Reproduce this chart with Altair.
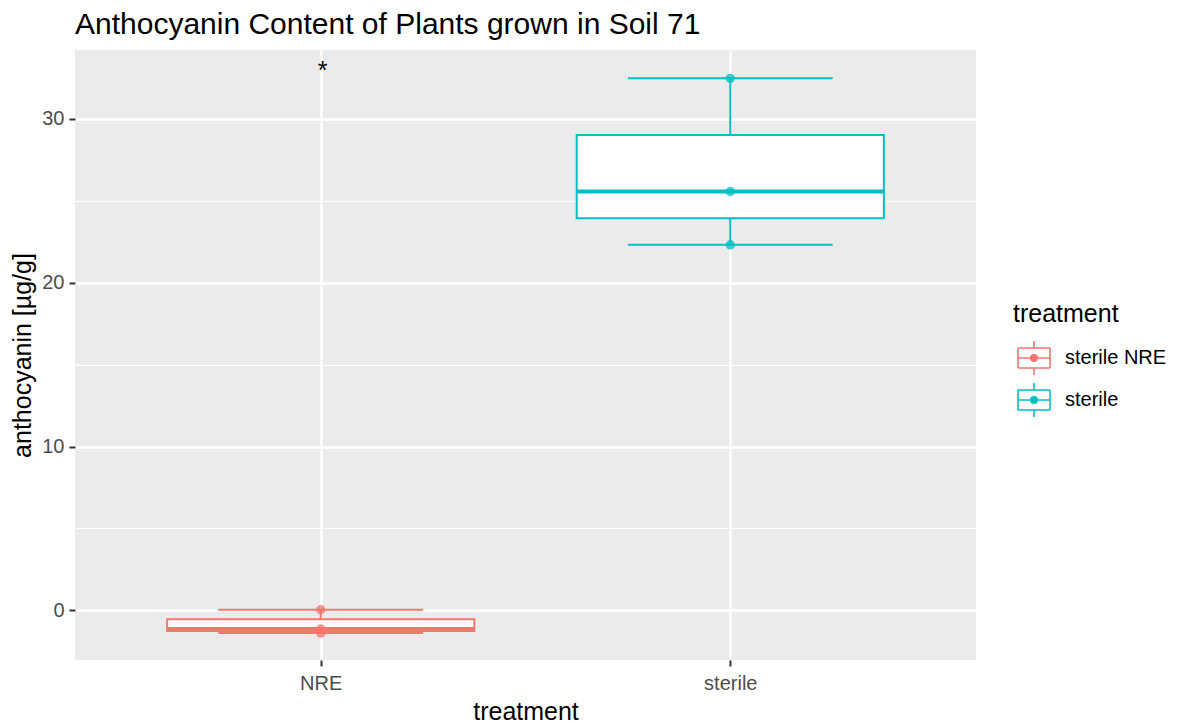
import json
import altair as alt
import pandas as pd

# ---- data ----
categories = ["NRE", "sterile"]          # x-axis categories
groups = ["sterile NRE", "sterile"]      # legend labels
colors = ["#F8766D", "#00BFC4"]
nre_values = [-1.38, -1.13, 0.05]
sterile_values = [22.3, 25.55, 32.45]
y_ticks = [0, 10, 20, 30]
y_minor = [5, 15, 25]
ann_label = ["*"]
ann_cat = ["NRE"]
ann_y = [32.4]

FONT = "Liberation Sans"

rows = []
for i, (cat, grp, vals) in enumerate(zip(categories, groups, [nre_values, sterile_values])):
    for v in vals:
        rows.append({"treatment": cat, "group": grp, "idx": i + 1, "value": v})
df = pd.DataFrame(rows)

ann_df = pd.DataFrame({
    "label": ann_label,
    "idx": [categories.index(c) + 1 for c in ann_cat],
    "y": ann_y,
})

x_scale = alt.Scale(domain=[0.4, 2.6], nice=False, zero=False)
y_scale = alt.Scale(domain=[-3.02, 34.18], nice=False, zero=False)
col_scale = alt.Scale(domain=groups, range=colors)

label_expr = json.dumps(categories) + "[datum.value - 1]"

x_axis = alt.Axis(values=[1, 2], labelExpr=label_expr, title="treatment",
                  tickSize=6, tickWidth=2, tickColor="#333333", domain=False,
                  labelColor="#4D4D4D", labelFontSize=20, labelFont=FONT, labelPadding=7,
                  titleFont=FONT, titleFontSize=25, titleFontWeight="normal",
                  titleColor="black", titlePadding=6,
                  grid=True, gridColor="white", gridWidth=2.4)
y_axis = alt.Axis(values=y_ticks, title="anthocyanin [µg/g]",
                  tickSize=6, tickWidth=2, tickColor="#333333", domain=False,
                  labelColor="#4D4D4D", labelFontSize=20, labelFont=FONT, labelPadding=5,
                  titleFont=FONT, titleFontSize=25, titleFontWeight="normal",
                  titleColor="black", titlePadding=6,
                  grid=True, gridColor="white", gridWidth=2.4)
y_minor_axis = alt.Axis(values=y_minor, orient="right", labels=False, ticks=False,
                        domain=False, title=None, grid=True, gridColor="white",
                        gridWidth=1.2)

legend_path = ("M-0.8,-0.5H0.8M0.8,-0.5V0.5M0.8,0.5H-0.8M-0.8,0.5V-0.5"
               "M-0.8,0H0.8M0,-0.5V-0.85M0,0.5V0.85"
               "M0.16,0A0.16,0.16,0,1,1,-0.16,0A0.16,0.16,0,1,1,0.16,0")
legend = alt.Legend(title="treatment", orient="none", legendX=938, legendY=252,
                    symbolType=legend_path, symbolSize=1600, symbolStrokeWidth=1.6,
                    titleFont=FONT, titleFontSize=25, titleFontWeight="normal",
                    titleColor="black", titlePadding=10,
                    labelFont=FONT, labelFontSize=20, labelColor="black",
                    labelOffset=10, rowPadding=0)

base = alt.Chart(df)

minor = base.mark_point(opacity=0).encode(
    x=alt.X("idx:Q", scale=x_scale, axis=x_axis),
    y=alt.Y("value:Q", scale=y_scale, axis=y_minor_axis),
)

stats = base.transform_aggregate(
    q1="q1(value)", q3="q3(value)", med="median(value)",
    lo="min(value)", hi="max(value)",
    groupby=["treatment", "group", "idx"],
).transform_calculate(
    box_l="datum.idx - 0.375", box_r="datum.idx + 0.375",
    cap_l="datum.idx - 0.25", cap_r="datum.idx + 0.25",
)

stroke_enc = alt.Stroke("group:N", scale=col_scale, legend=legend)

whisker = stats.mark_rule(strokeWidth=2).encode(
    x=alt.X("idx:Q", scale=x_scale, axis=x_axis),
    y=alt.Y("lo:Q", scale=y_scale, axis=y_axis),
    y2="hi:Q",
    stroke=stroke_enc,
)
cap_lo = stats.mark_rule(strokeWidth=2).encode(
    x=alt.X("cap_l:Q", scale=x_scale, axis=x_axis),
    x2="cap_r:Q",
    y=alt.Y("lo:Q", scale=y_scale, axis=y_axis),
    stroke=stroke_enc,
)
cap_hi = stats.mark_rule(strokeWidth=2).encode(
    x=alt.X("cap_l:Q", scale=x_scale, axis=x_axis),
    x2="cap_r:Q",
    y=alt.Y("hi:Q", scale=y_scale, axis=y_axis),
    stroke=stroke_enc,
)
box = stats.mark_rect(fill="white", strokeWidth=2).encode(
    x=alt.X("box_l:Q", scale=x_scale, axis=x_axis),
    x2="box_r:Q",
    y=alt.Y("q1:Q", scale=y_scale, axis=y_axis),
    y2="q3:Q",
    stroke=stroke_enc,
)
median = stats.mark_rule(strokeWidth=4).encode(
    x=alt.X("box_l:Q", scale=x_scale, axis=x_axis),
    x2="box_r:Q",
    y=alt.Y("med:Q", scale=y_scale, axis=y_axis),
    stroke=stroke_enc,
)
points = base.mark_circle(size=55, opacity=0.75).encode(
    x=alt.X("idx:Q", scale=x_scale, axis=x_axis),
    y=alt.Y("value:Q", scale=y_scale, axis=y_axis),
    fill=alt.Fill("group:N", scale=col_scale, legend=legend),
    stroke=stroke_enc,
)
star = alt.Chart(ann_df).mark_text(font=FONT, fontSize=25, color="black",
                                   baseline="alphabetic", align="center", dx=2).encode(
    x=alt.X("idx:Q", scale=x_scale, axis=x_axis),
    y=alt.Y("y:Q", scale=y_scale, axis=y_axis),
    text="label:N",
)

main = alt.layer(whisker, cap_lo, cap_hi, box, median, points, star)

chart = alt.layer(minor, main).resolve_axis(y="independent").properties(
    width=901, height=610,
    padding={"left": 2, "top": 2, "right": 0, "bottom": 0},
    title=alt.TitleParams("Anthocyanin Content of Plants grown in Soil 71",
                          anchor="start", frame="group", font=FONT, fontSize=30,
                          fontWeight="normal", color="black", offset=10),
).configure_view(fill="#EBEBEB", stroke=None)

chart.save("out.html", embed_options={"renderer": "svg", "actions": False})
